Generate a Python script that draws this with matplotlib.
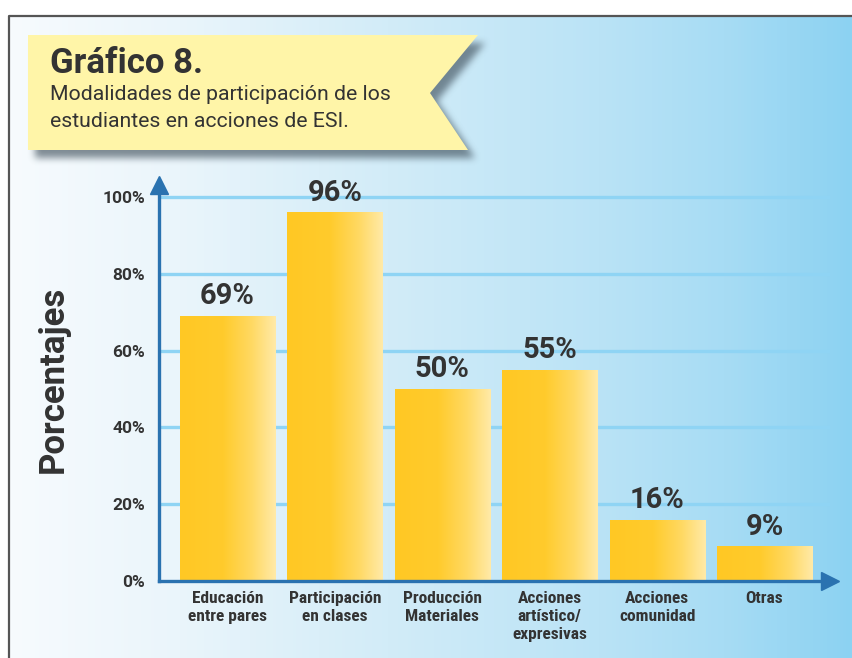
import numpy as np
import matplotlib
matplotlib.use("Agg")
import matplotlib.pyplot as plt
from matplotlib import font_manager as fm
from matplotlib.colors import LinearSegmentedColormap
from matplotlib.patches import Polygon
from matplotlib.path import Path

# ---------------- data ----------------
categories = ["Educación\nentre pares", "Participación\nen clases", "Producción\nMateriales",
              "Acciones\nartístico/\nexpresivas", "Acciones\ncomunidad", "Otras"]
values = [69, 96, 50, 55, 16, 9]
value_labels = ["69%", "96%", "50%", "55%", "16%", "9%"]
yticks = [0, 20, 40, 60, 80, 100]
ytick_labels = ["0%", "20%", "40%", "60%", "80%", "100%"]
title = "Gráfico 8."
subtitle_lines = ["Modalidades de participación de los", "estudiantes en acciones de ESI."]
ylabel = "Porcentajes"

# ---------------- fonts ----------------
names = {f.name for f in fm.fontManager.ttflist}
main_font = "Roboto" if "Roboto" in names else "DejaVu Sans"
cond_font = main_font
for cand in ["Roboto Condensed", "Liberation Sans Narrow"]:
    if cand in names:
        cond_font = cand
        break
plt.rcParams["font.family"] = [main_font, "DejaVu Sans"]

TXT = "#333333"
AXC = "#2a72b0"
GRID = "#8fd4f4"

W, H = 853, 658
fig = plt.figure(figsize=(W / 100, H / 100), dpi=100)

# ---------------- background (pixel coordinates) ----------------
bg = fig.add_axes([0, 0, 1, 1])
bg.set_xlim(0, W)
bg.set_ylim(H, 0)
bg.axis("off")

bg_cmap = LinearSegmentedColormap.from_list("bg", [
    (0.0, "#f7fbfe"), (0.2, "#eaf5fb"), (0.45, "#d2ecf8"),
    (0.7, "#bae3f6"), (0.85, "#a7dcf4"), (1.0, "#8cd2f2")])
grad = np.linspace(0, 1, 256).reshape(1, -1)
bg.imshow(grad, cmap=bg_cmap, extent=[9, W, H, 16], aspect="auto", zorder=0)
# frame
bg.plot([9, 9, W], [H, 16, 16], color="#555555", lw=1.6, solid_capstyle="butt", zorder=1)

# banner with blurred shadow
banner = [(28, 35), (478, 35), (430, 93), (468, 150), (28, 150)]
sx0, sy0, sx1, sy1 = 0, 0, 520, 200
gx, gy = np.meshgrid(np.arange(sx0, sx1) + 0.5, np.arange(sy0, sy1) + 0.5)
off = [(x + 7, y + 8) for x, y in banner]
mask = Path(off).contains_points(np.c_[gx.ravel(), gy.ravel()]).reshape(gx.shape).astype(float)
def box_blur(a, r):
    k = np.ones(2 * r + 1) / (2 * r + 1)
    a = np.apply_along_axis(lambda m: np.convolve(m, k, mode="same"), 0, a)
    a = np.apply_along_axis(lambda m: np.convolve(m, k, mode="same"), 1, a)
    return a
for _ in range(3):
    mask = box_blur(mask, 3)
rgba = np.zeros(mask.shape + (4,))
rgba[..., 0] = 0x40 / 255
rgba[..., 1] = 0x50 / 255
rgba[..., 2] = 0x5c / 255
rgba[..., 3] = mask * 0.65
bg.imshow(rgba, extent=[sx0, sx1, sy1, sy0], aspect="auto", zorder=2, interpolation="bilinear")
bg.add_patch(Polygon(banner, closed=True, fc="#fff5a8", ec="none", zorder=3))
bg.text(50, 73, title, fontsize=25, fontweight="bold", color=TXT, va="baseline", ha="left", zorder=4)
for i, line in enumerate(subtitle_lines):
    bg.text(50, 100 + i * 27, line, fontsize=15.3, color=TXT, va="baseline", ha="left", zorder=4)

bg.text(53, 379, ylabel, fontsize=25, fontweight="bold", color=TXT, rotation=90,
        ha="center", va="center", zorder=4)

# ---------------- chart axes ----------------
left_px, right_px, bottom_px, top_px = 159, 830, 581, 185
ax = fig.add_axes([left_px / W, (H - bottom_px) / H, (right_px - left_px) / W, (bottom_px - top_px) / H])
ax.patch.set_alpha(0)
ax.set_ylim(0, (bottom_px - top_px) / 3.84)
ax.set_xlim(-0.638, 5.61)

x = np.arange(len(categories))
bars = ax.bar(x, values, width=0.885, color="none", edgecolor="none", zorder=3)

bar_cmap = LinearSegmentedColormap.from_list("bar", [
    (0.0, "#ffc824"), (0.45, "#ffcb2c"), (0.75, "#ffd963"), (1.0, "#ffeaa8")])
for b in bars:
    x0, y0, w, h = b.get_x(), b.get_y(), b.get_width(), b.get_height()
    im = ax.imshow(grad, cmap=bar_cmap, extent=[x0, x0 + w, y0, y0 + h], aspect="auto", zorder=3)
    im.set_clip_path(b)

for xi, v, lab in zip(x, values, value_labels):
    ax.annotate(lab, (xi, v), xytext=(0, 4), textcoords="offset points", ha="center",
                va="bottom", fontsize=21, fontweight="bold", color=TXT, zorder=5)

# grid
for t in yticks[1:]:
    ax.axhline(t, color=GRID, lw=2.4, zorder=1)

for s in ["top", "right"]:
    ax.spines[s].set_visible(False)
for s in ["left", "bottom"]:
    ax.spines[s].set_color(AXC)
    ax.spines[s].set_linewidth(2.4)
    ax.spines[s].set_zorder(4)

ax.set_yticks(yticks)
ax.set_yticklabels(ytick_labels, fontsize=12.5, fontweight="bold", color=TXT)
ax.set_xticks(x)
ax.set_xticklabels(categories, fontsize=12.5, fontweight="bold", color=TXT,
                   family=[cond_font, "DejaVu Sans"], linespacing=1.25)
ax.tick_params(axis="y", length=0, pad=10)
ax.tick_params(axis="x", length=0, pad=7)

# arrow heads
ylim = ax.get_ylim()
xlim = ax.get_xlim()
ax.plot([xlim[0]], [ylim[1]], marker="^", markersize=13, color=AXC, clip_on=False, zorder=6)
ax.plot([xlim[1]], [0], marker=">", markersize=13, color=AXC, clip_on=False, zorder=6)

fig.savefig("out.png", dpi=100)
